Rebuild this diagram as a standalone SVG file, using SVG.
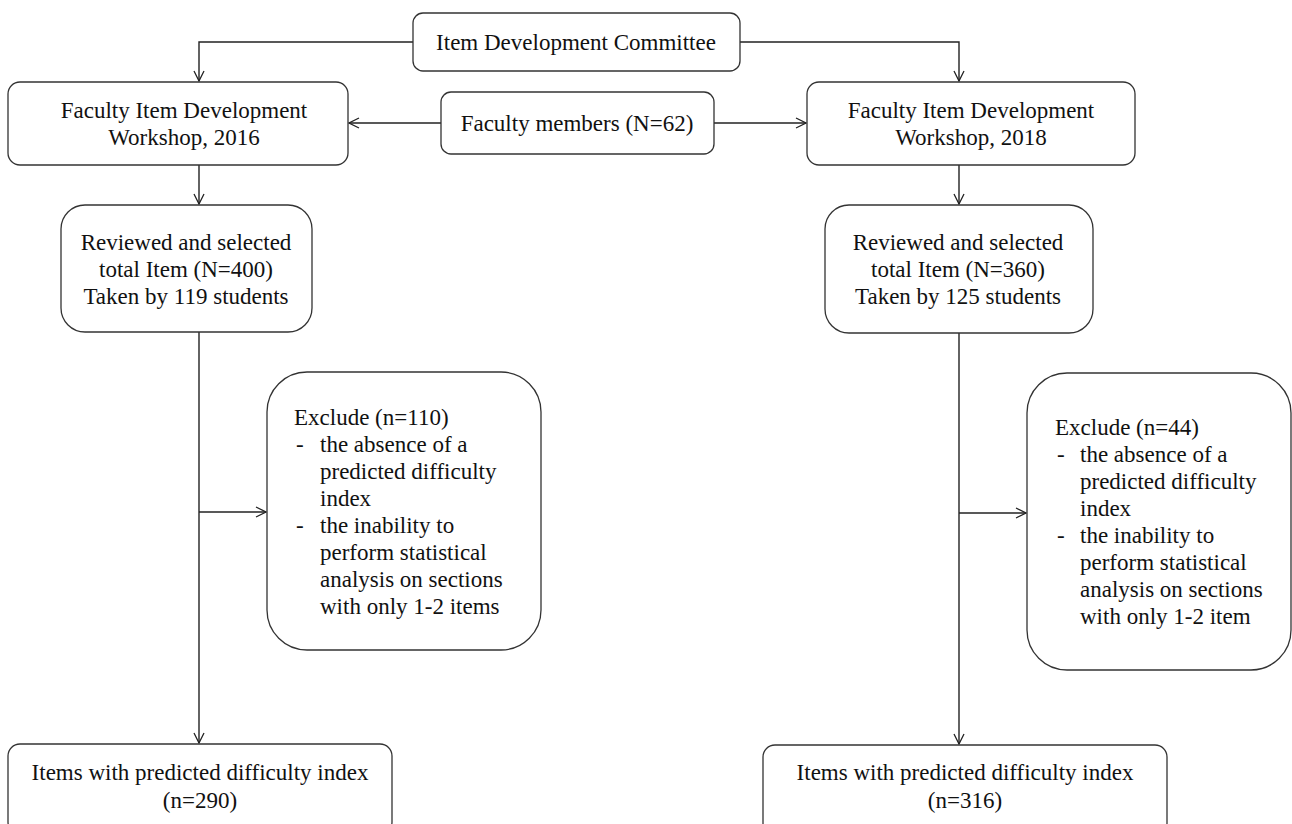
<svg xmlns="http://www.w3.org/2000/svg" width="1292" height="824" viewBox="0 0 1292 824">
<defs>
<style>
.box{fill:#fff;stroke:#333;stroke-width:1.3}
.t{font-family:"Liberation Serif","Times New Roman",serif;font-size:23px;fill:#111}
.c{text-anchor:middle}
.ln{fill:none;stroke:#222;stroke-width:1.4}
</style>
<marker id="arr" viewBox="0 0 12 12" refX="11" refY="6" markerWidth="12" markerHeight="12" markerUnits="userSpaceOnUse" orient="auto">
<path d="M1,1 L11,6 L1,11" fill="none" stroke="#222" stroke-width="1.3"/>
</marker>
</defs>
<rect width="1292" height="824" fill="#fff"/>
<g id="connectors">
<path class="ln" d="M413,42 H199 V81" marker-end="url(#arr)"/>
<path class="ln" d="M740,42 H959 V81" marker-end="url(#arr)"/>
<path class="ln" d="M441,123 H349" marker-end="url(#arr)"/>
<path class="ln" d="M714,123 H806" marker-end="url(#arr)"/>
<path class="ln" d="M199,165 V204" marker-end="url(#arr)"/>
<path class="ln" d="M959,165 V204" marker-end="url(#arr)"/>
<path class="ln" d="M199,332 V743" marker-end="url(#arr)"/>
<path class="ln" d="M959,333 V744" marker-end="url(#arr)"/>
<path class="ln" d="M199,512 H266" marker-end="url(#arr)"/>
<path class="ln" d="M959,513 H1026" marker-end="url(#arr)"/>
</g>
<g id="committee">
<rect class="box" x="413" y="13" width="327" height="58" rx="10"/>
<text class="t c" x="576" y="50">Item Development Committee</text>
</g>
<g id="workshop2016">
<rect class="box" x="8" y="82" width="340" height="83" rx="12"/>
<text class="t c" x="184" y="118">Faculty Item Development</text>
<text class="t c" x="184" y="145">Workshop, 2016</text>
</g>
<g id="faculty">
<rect class="box" x="441" y="92" width="273" height="62" rx="10"/>
<text class="t c" x="577" y="131">Faculty members (N=62)</text>
</g>
<g id="workshop2018">
<rect class="box" x="807" y="82" width="328" height="83" rx="12"/>
<text class="t c" x="971" y="118">Faculty Item Development</text>
<text class="t c" x="971" y="145">Workshop, 2018</text>
</g>
<g id="reviewed2016">
<rect class="box" x="61" y="205" width="251" height="127" rx="24"/>
<text class="t c" x="186" y="250">Reviewed and selected</text>
<text class="t c" x="186" y="277">total Item (N=400)</text>
<text class="t c" x="186" y="304">Taken by 119 students</text>
</g>
<g id="reviewed2018">
<rect class="box" x="825" y="205" width="268" height="128" rx="24"/>
<text class="t c" x="958" y="250">Reviewed and selected</text>
<text class="t c" x="958" y="277">total Item (N=360)</text>
<text class="t c" x="958" y="304">Taken by 125 students</text>
</g>
<g id="exclude2016">
<rect class="box" x="267" y="372" width="274" height="278" rx="40"/>
<text class="t" x="294" y="425">Exclude (n=110)</text>
<text class="t" x="296" y="452">-</text>
<text class="t" x="320" y="452">the absence of a</text>
<text class="t" x="320" y="479">predicted difficulty</text>
<text class="t" x="320" y="506">index</text>
<text class="t" x="296" y="533">-</text>
<text class="t" x="320" y="533">the inability to</text>
<text class="t" x="320" y="560">perform statistical</text>
<text class="t" x="320" y="587">analysis on sections</text>
<text class="t" x="320" y="614">with only 1-2 items</text>
</g>
<g id="exclude2018">
<rect class="box" x="1027" y="373" width="264" height="297" rx="40"/>
<text class="t" x="1055" y="435">Exclude (n=44)</text>
<text class="t" x="1057" y="462">-</text>
<text class="t" x="1080" y="462">the absence of a</text>
<text class="t" x="1080" y="489">predicted difficulty</text>
<text class="t" x="1080" y="516">index</text>
<text class="t" x="1057" y="543">-</text>
<text class="t" x="1080" y="543">the inability to</text>
<text class="t" x="1080" y="570">perform statistical</text>
<text class="t" x="1080" y="597">analysis on sections</text>
<text class="t" x="1080" y="624">with only 1-2 item</text>
</g>
<g id="final2016">
<rect class="box" x="8" y="744" width="384" height="90" rx="12"/>
<text class="t c" x="200" y="780">Items with predicted difficulty index</text>
<text class="t c" x="200" y="808">(n=290)</text>
</g>
<g id="final2018">
<rect class="box" x="763" y="745" width="404" height="90" rx="12"/>
<text class="t c" x="965" y="780">Items with predicted difficulty index</text>
<text class="t c" x="965" y="808">(n=316)</text>
</g>
</svg>
